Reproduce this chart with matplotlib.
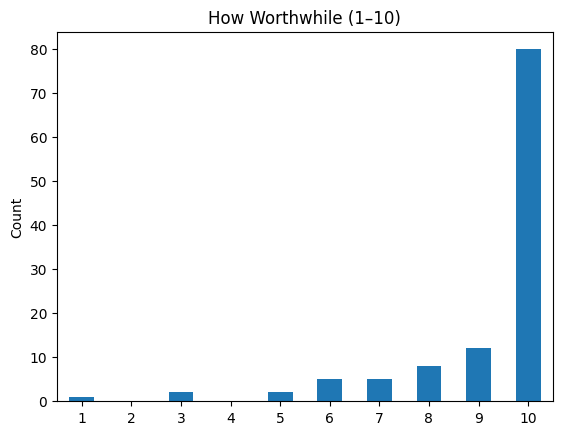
import matplotlib
matplotlib.use("Agg")
import matplotlib.pyplot as plt
import pandas as pd

# Ratings and counts
ratings = [1, 2, 3, 4, 5, 6, 7, 8, 9, 10]
counts = [1, 0, 2, 0, 2, 5, 5, 8, 12, 80]

s = pd.Series(counts, index=ratings)

fig, ax = plt.subplots(figsize=(6.4, 4.8), dpi=100)
s.plot(kind="bar", ax=ax, color="#1f77b4", rot=0)
ax.set_title("How Worthwhile (1\u201310)")
ax.set_ylabel("Count")
ax.set_xlabel("")

fig.savefig("out.png", bbox_inches="tight")
